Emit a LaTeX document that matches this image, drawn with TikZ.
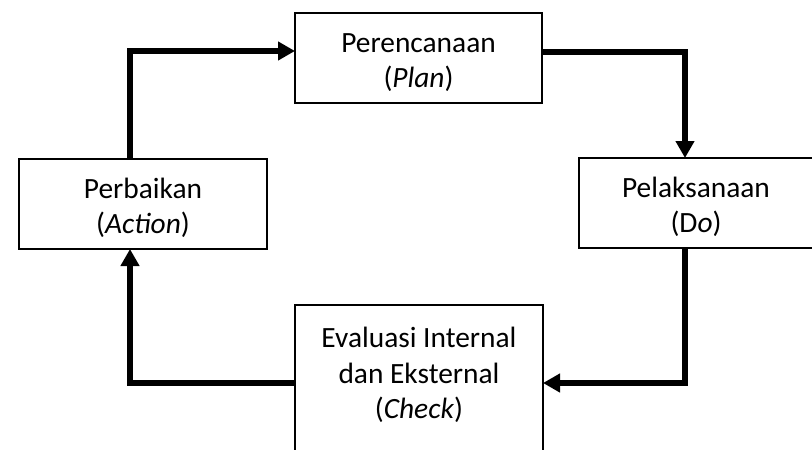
\documentclass[tikz,border=0pt]{standalone}
\usepackage{fontspec}
\setmainfont{Carlito}
\usetikzlibrary{arrows.meta}
\tikzset{
  box/.style={draw=black, line width=1.3pt, rectangle, minimum height=90pt, inner sep=0pt, outer sep=0pt},
  txt/.style={anchor=base, inner sep=0pt, font=\fontsize{29.4}{35}\selectfont},
  arr/.style={line width=5.5pt, line join=miter, -{Triangle[length=17pt,width=18pt]}}
}
\begin{document}
\begin{tikzpicture}[x=1pt,y=-1pt]
\useasboundingbox (0,0) rectangle (812,450);
\clip (0,0) rectangle (812,450);
\fill[white] (0,0) rectangle (812,450);
% boxes
\node[box, minimum width=247pt] (plan) at (418.5,58) {};
\node[box, minimum width=248pt] (act) at (143,204) {};
\node[box, minimum width=234pt] (do) at (696,203) {};
\node[box, minimum width=248pt, minimum height=156pt] (chk) at (419,383) {};
% texts
\node[txt] (plan1) at ([yshift=6pt]plan.center) {Perencanaan};
\node[txt] (plan2) at ([yshift=-29pt]plan.center) {(\textit{Plan})};
\node[txt] (act1) at ([yshift=6pt]act.center) {Perbaikan};
\node[txt] (act2) at ([yshift=-29pt]act.center) {(\textit{Action})};
\node[txt] (do1) at ([yshift=6pt]do.center) {Pelaksanaan};
\node[txt] (do2) at ([yshift=-29pt]do.center) {(D\textit{o})};
\node[txt] (chk1) at ([yshift=36pt]chk.center) {Evaluasi Internal};
\node[txt] (chk2) at (chk.center) {dan Eksternal};
\node[txt] (chk3) at ([yshift=-35pt]chk.center) {(\textit{Check})};
% connectors
\draw[arr] ([xshift=-13pt]act.north) |- ([yshift=7pt]plan.west);
\draw[arr] ([yshift=6pt]plan.east) -| ([xshift=-11pt]do.north);
\draw[arr] ([xshift=-11pt]do.south) |- (chk.east);
\draw[arr] (chk.west) -| ([xshift=-13pt]act.south);
\end{tikzpicture}
\end{document}
